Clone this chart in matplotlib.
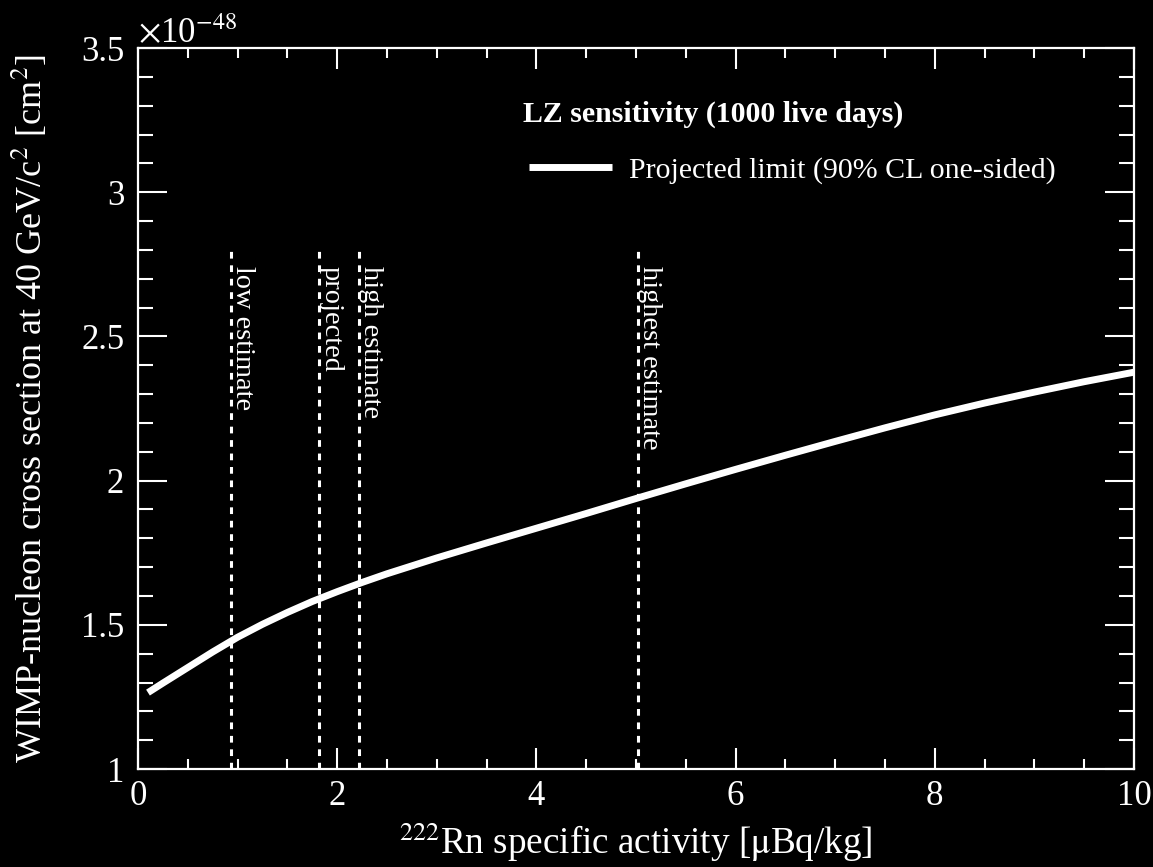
import matplotlib
matplotlib.use("Agg")
import matplotlib.pyplot as plt
from matplotlib.ticker import MultipleLocator

plt.rcParams["font.family"] = ["Liberation Serif", "DejaVu Serif"]
plt.rcParams["mathtext.fontset"] = "stix"

# projected 90% CL limit vs radon activity (cross section in units of 1e-48 cm^2)
rn_activity = [0.1, 0.25, 0.5, 0.75, 1.0, 1.25, 1.5, 1.75, 2.0, 2.25, 2.5, 3.0,
               3.5, 4.0, 4.5, 5.0, 5.5, 6.0, 6.5, 7.0, 7.5, 8.0, 8.5, 9.0, 9.5, 10.0]
sigma_limit = [1.265, 1.298, 1.352, 1.406, 1.457, 1.502, 1.543, 1.581, 1.615, 1.647,
               1.677, 1.732, 1.784, 1.835, 1.886, 1.938, 1.989, 2.039, 2.088, 2.136,
               2.183, 2.228, 2.269, 2.307, 2.343, 2.376]

# radon activity scenarios
scenario_x = [0.93, 1.82, 2.22, 5.02]
scenario_labels = ["low estimate", "projected", "high estimate", "highest estimate"]
scenario_top = 2.8

fig = plt.figure(figsize=(11.53, 8.67), dpi=100, facecolor="black")
ax = fig.add_axes([0.1197, 0.1130, 0.8638, 0.8316], facecolor="black")

line, = ax.plot(rn_activity, sigma_limit, color="white", lw=5, solid_capstyle="butt",
                solid_joinstyle="round", label="Projected limit (90% CL one-sided)")
for xv, lab in zip(scenario_x, scenario_labels):
    ax.plot([xv, xv], [1.0, scenario_top], color="white", lw=2.2, ls=(0, (2.2, 2.2)))
    ax.text(xv + 0.05, scenario_top - 0.055, lab, rotation=-90, color="white",
            fontsize=20.4, ha="left", va="baseline", rotation_mode="anchor")

ax.set_xlim(0, 10)
ax.set_ylim(1, 3.5)
ax.xaxis.set_major_locator(MultipleLocator(2))
ax.xaxis.set_minor_locator(MultipleLocator(0.5))
ax.yaxis.set_major_locator(MultipleLocator(0.5))
ax.yaxis.set_minor_locator(MultipleLocator(0.1))
ax.yaxis.set_major_formatter(plt.FuncFormatter(lambda v, p: f"{v:g}"))

for s in ax.spines.values():
    s.set_color("white")
    s.set_linewidth(1.6)
ax.tick_params(axis="both", which="both", direction="in", colors="white",
               top=True, right=True, width=1.5, labelsize=25)
ax.tick_params(axis="y", which="major", length=21, pad=10)
ax.tick_params(axis="y", which="minor", length=10.5)
ax.tick_params(axis="x", which="major", length=15, pad=8)
ax.tick_params(axis="x", which="minor", length=7.5)

ax.set_xlabel(r"$^{222}$Rn specific activity [$\mathrm{\mu}$Bq/kg]", color="white",
              fontsize=26.7, labelpad=6)
ax.set_ylabel(r"WIMP-nucleon cross section at 40 GeV/c$^{2}$ [cm$^{2}$]",
              color="white", fontsize=26, labelpad=22)
ax.text(0.0, 1.007, r"$\times$10$^{-48}$", transform=ax.transAxes, color="white",
        fontsize=25, ha="left", va="baseline")

# legend: bold header plus one entry
ax.text(0.3866, 0.8974, "LZ sensitivity (1000 live days)", transform=ax.transAxes,
        color="white", fontsize=21.5, fontweight="bold", ha="left", va="baseline")
leg = ax.legend(handles=[line], loc="center left", bbox_to_anchor=(0.3926, 0.8308),
                frameon=False, fontsize=21.5, borderpad=0, borderaxespad=0,
                handlelength=2.78, handletextpad=0.57)
for t in leg.get_texts():
    t.set_color("white")

fig.savefig("out.png", dpi=100, facecolor="black")
